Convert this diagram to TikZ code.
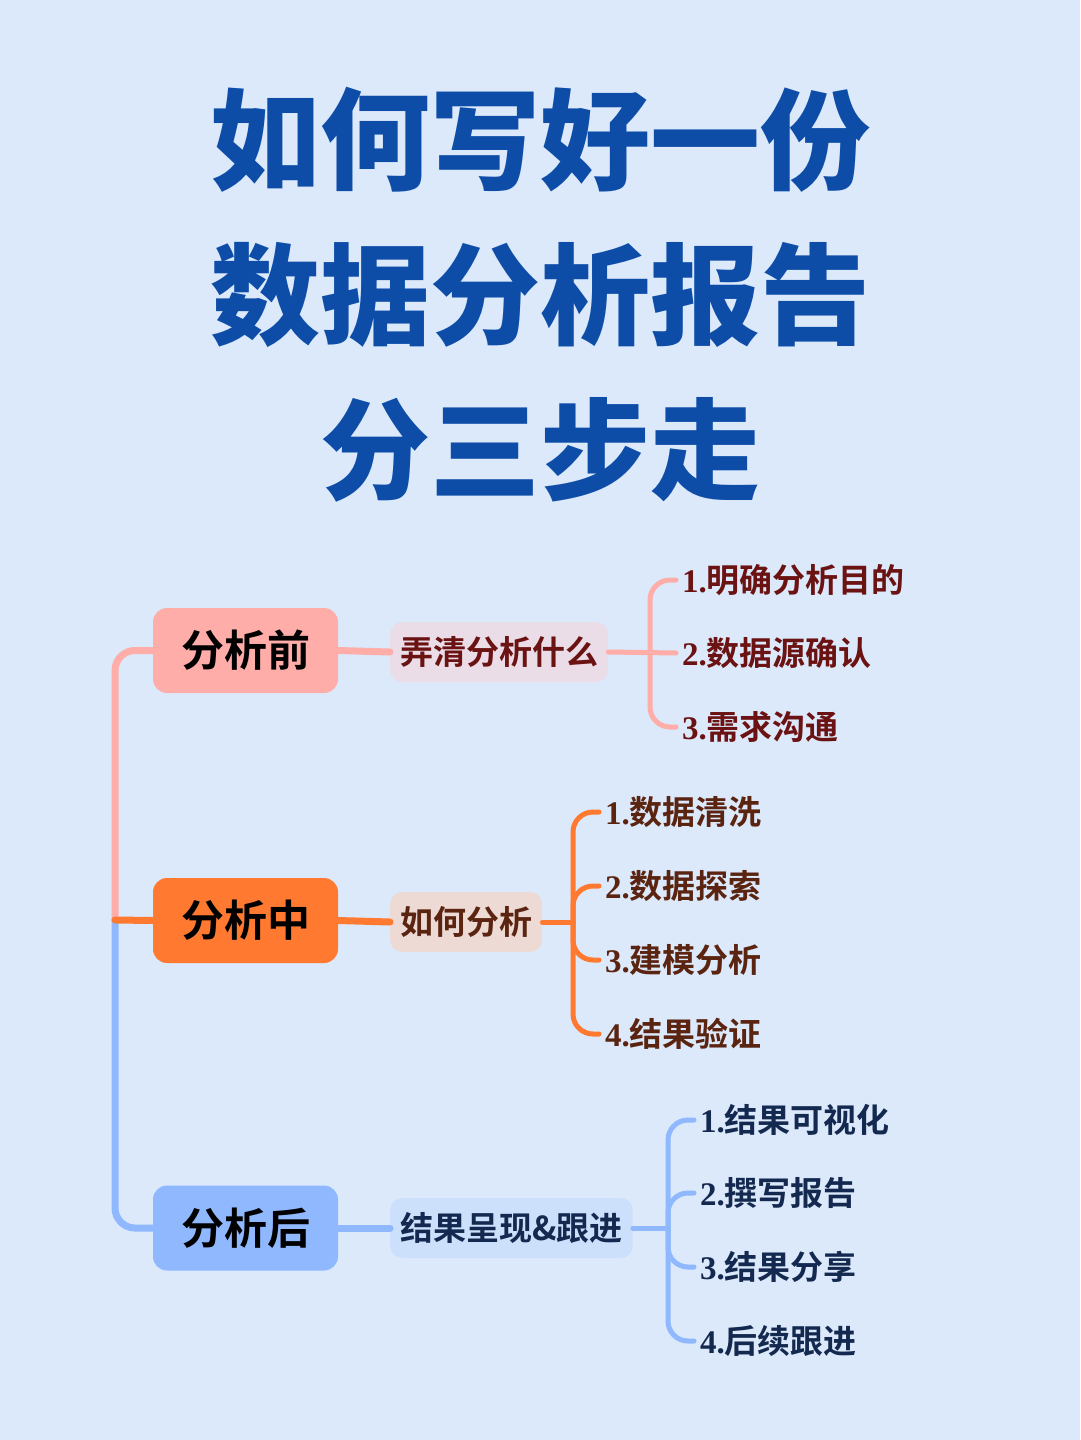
\documentclass[tikz,border=0pt]{standalone}
\usepackage{fontspec}
\setmainfont{Liberation Serif}
\newfontfamily\cjk{Noto Sans CJK SC}[BoldFont={Noto Sans CJK SC Bold}]
\newfontfamily\cjkblack{Noto Sans CJK SC Black}
\definecolor{bg}{HTML}{DCE9FB}
\definecolor{ttl}{HTML}{0D4DA8}
\definecolor{pinkA}{HTML}{FFADA8}
\definecolor{orgA}{HTML}{FF7A30}
\definecolor{bluA}{HTML}{8FB8FF}
\definecolor{pinkB}{HTML}{EADDE8}
\definecolor{orgB}{HTML}{EDDAD5}
\definecolor{bluB}{HTML}{CCDFFB}
\definecolor{txA}{HTML}{6B1212}
\definecolor{txB}{HTML}{5A2410}
\definecolor{txC}{HTML}{14294F}
\begin{document}
\begin{tikzpicture}[x=1pt,y=-1pt,
  ttlstyle/.style={text=ttl,font=\cjkblack\fontsize{110}{116}\selectfont},
  mainbox/.style={rounded corners=14pt,minimum width=185pt,minimum height=85pt,font=\cjk\bfseries\fontsize{43}{45}\selectfont,text=black},
  subbox/.style={rounded corners=12pt,minimum height=60pt,inner xsep=10pt,font=\cjk\bfseries\fontsize{33}{35}\selectfont},
  leaf/.style={anchor=west,inner sep=0pt,font=\bfseries\fontsize{33}{35}\selectfont},
  ln/.style={line width=7pt,line cap=round,rounded corners=20pt},
  lf/.style={line width=5pt,line cap=round,rounded corners=20pt}]
\fill[bg] (0,0) rectangle (1080,1440);
\node[ttlstyle] (t1) at (540,140) {如何写好一份};
\node[ttlstyle] (t2) at (540,295) {数据分析报告};
\node[ttlstyle] (t3) at (540,450) {分三步走};
% main nodes
\node[mainbox,fill=pinkA] (m1) at (245.5,650.5) {分析前};
\node[mainbox,fill=orgA] (m2) at (245.5,920.5) {分析中};
\node[mainbox,fill=bluA] (m3) at (245.5,1228) {分析后};
\node[subbox,fill=pinkB,text=txA,anchor=west] (s1) at (390,652) {弄清分析什么};
\node[subbox,fill=orgB,text=txB,anchor=west] (s2) at (390,922) {如何分析};
\node[subbox,fill=bluB,text=txC,anchor=west] (s3) at (390,1228) {结果呈现\&跟进};
% trunk
\coordinate (tj) at (115,920);
\draw[ln,pinkA] (m1.west) -- (115,650.5) -- (tj);
\draw[ln,bluA] (tj) -- (115,1228) -- (m3.west);
\draw[ln,orgA,rounded corners=0pt] (tj) -- (m2.west);
\draw[ln,pinkA] (m1.east) -- (s1.west);
\draw[ln,orgA] (m2.east) -- (s2.west);
\draw[ln,bluA] (m3.east) -- (s3.west);
% group1
\node[leaf,text=txA] (a1) at (682,580) {1.{\cjk 明确分析目的}};
\node[leaf,text=txA] (a2) at (682,653) {2.{\cjk 数据源确认}};
\node[leaf,text=txA] (a3) at (682,727) {3.{\cjk 需求沟通}};
\draw[lf,pinkA] (s1.east) -- ([xshift=-6pt]a2.west);
\draw[lf,pinkA] ([xshift=-6pt]a1.west) -- (650,580) -- (650,727) -- ([xshift=-6pt]a3.west);
% group2
\node[leaf,text=txB] (b1) at (605,812) {1.{\cjk 数据清洗}};
\node[leaf,text=txB] (b2) at (605,886) {2.{\cjk 数据探索}};
\node[leaf,text=txB] (b3) at (605,960) {3.{\cjk 建模分析}};
\node[leaf,text=txB] (b4) at (605,1034) {4.{\cjk 结果验证}};
\coordinate (bj) at (573,922);
\draw[lf,orgA] (s2.east) -- (bj);
\draw[lf,orgA] ([xshift=-6pt]b1.west) -- (573,812) -- (573,1034) -- ([xshift=-6pt]b4.west);
\draw[lf,orgA] ([xshift=-6pt]b2.west) -- (573,886) -- (573,922);
\draw[lf,orgA] ([xshift=-6pt]b3.west) -- (573,960) -- (573,922);
% group3
\node[leaf,text=txC] (c1) at (700,1120) {1.{\cjk 结果可视化}};
\node[leaf,text=txC] (c2) at (700,1193) {2.{\cjk 撰写报告}};
\node[leaf,text=txC] (c3) at (700,1267) {3.{\cjk 结果分享}};
\node[leaf,text=txC] (c4) at (700,1341) {4.{\cjk 后续跟进}};
\coordinate (cj) at (668,1228);
\draw[lf,bluA] (s3.east) -- (cj);
\draw[lf,bluA] ([xshift=-6pt]c1.west) -- (668,1120) -- (668,1341) -- ([xshift=-6pt]c4.west);
\draw[lf,bluA] ([xshift=-6pt]c2.west) -- (668,1193) -- (cj);
\draw[lf,bluA] ([xshift=-6pt]c3.west) -- (668,1267) -- (cj);
\end{tikzpicture}
\end{document}
